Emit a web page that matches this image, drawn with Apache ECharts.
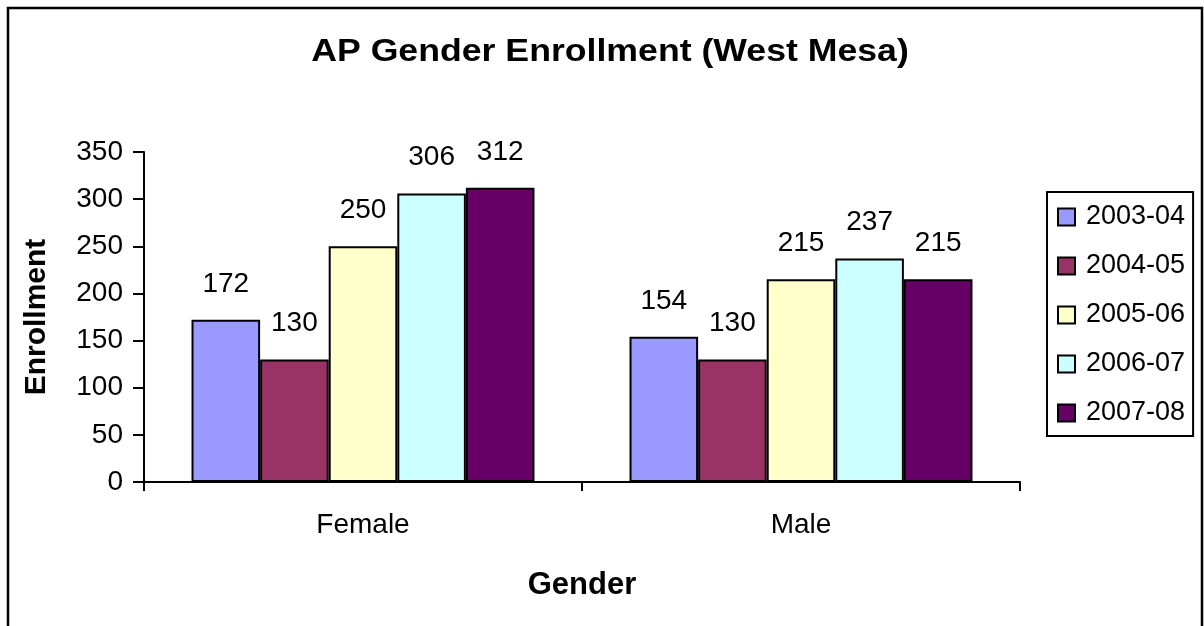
<!DOCTYPE html>
<html>
<head>
<meta charset="utf-8">
<script src="https://cdn.jsdelivr.net/npm/echarts@6/dist/echarts.min.js"></script>
<style>
  html, body { margin: 0; padding: 0; background: #fff; }
  #chart { width: 1204px; height: 626px; }
</style>
</head>
<body>
<div id="chart"></div>
<script>
// Enrollment by gender, one series per school year
const categories = ['Female', 'Male'];
const years = ['2003-04', '2004-05', '2005-06', '2006-07', '2007-08'];
const enroll0304 = [172, 154];
const enroll0405 = [130, 130];
const enroll0506 = [250, 215];
const enroll0607 = [306, 237];
const enroll0708 = [312, 215];
const yearColors = ['#9999FF', '#993366', '#FFFFCC', '#CCFFFF', '#660066'];
const chartTitle = 'AP Gender Enrollment (West Mesa)';

const seriesValues = [enroll0304, enroll0405, enroll0506, enroll0607, enroll0708];
const FONT = '"Liberation Sans", Arial, sans-serif';

const chart = echarts.init(document.getElementById('chart'), null, { renderer: 'canvas' });

chart.setOption({
  backgroundColor: '#ffffff',
  animation: false,
  textStyle: { fontFamily: FONT, color: '#000' },
  graphic: [
    {
      // outer chart frame
      type: 'rect',
      shape: { x: 8, y: 8, width: 1194, height: 700 },
      style: { fill: 'none', stroke: '#000', lineWidth: 2.5 },
      silent: true
    },
    {
      // title, drawn slightly widened
      type: 'text',
      x: 610,
      y: 52,
      scaleX: 1.15,
      style: {
        text: chartTitle,
        fill: '#000',
        font: 'bold 31px "Liberation Sans", Arial, sans-serif',
        align: 'center',
        verticalAlign: 'middle'
      },
      silent: true
    }
  ],
  legend: {
    orient: 'vertical',
    left: 1047,
    top: 192,
    padding: [10, 8, 8, 10],
    borderColor: '#000',
    borderWidth: 2,
    icon: 'rect',
    itemWidth: 17,
    itemHeight: 17,
    itemGap: 19,
    data: years,
    textStyle: { fontFamily: FONT, fontSize: 27, color: '#000', lineHeight: 30, padding: [0, 0, 0, 6] }
  },
  grid: { left: 144, right: 184, top: 152, bottom: 144, containLabel: false },
  xAxis: {
    type: 'category',
    data: categories,
    name: 'Gender',
    nameLocation: 'middle',
    nameGap: 88,
    nameTextStyle: { fontFamily: FONT, fontSize: 31, fontWeight: 'bold', color: '#000' },
    axisLine: { lineStyle: { color: '#000', width: 2 } },
    axisTick: { show: true, length: 9, lineStyle: { color: '#000', width: 2 } },
    axisLabel: { fontFamily: FONT, fontSize: 28, color: '#000', margin: 29 },
    splitLine: { show: false }
  },
  yAxis: {
    type: 'value',
    min: 0,
    max: 350,
    interval: 50,
    name: 'Enrollment',
    nameLocation: 'middle',
    nameGap: 92,
    nameTextStyle: { fontFamily: FONT, fontSize: 30, fontWeight: 'bold', color: '#000' },
    axisLine: { show: true, lineStyle: { color: '#000', width: 2 } },
    axisTick: { show: true, length: 11, lineStyle: { color: '#000', width: 2 } },
    axisLabel: { fontFamily: FONT, fontSize: 28, color: '#000', margin: 21 },
    splitLine: { show: false }
  },
  series: years.map((y, i) => ({
    name: y,
    type: 'bar',
    data: seriesValues[i],
    barGap: '0%',
    barCategoryGap: '21.7%',
    itemStyle: { color: yearColors[i], borderColor: '#000', borderWidth: 2 },
    label: {
      show: true,
      position: 'top',
      distance: 22,
      fontFamily: FONT,
      fontSize: 28,
      color: '#000'
    }
  }))
});
</script>
</body>
</html>
